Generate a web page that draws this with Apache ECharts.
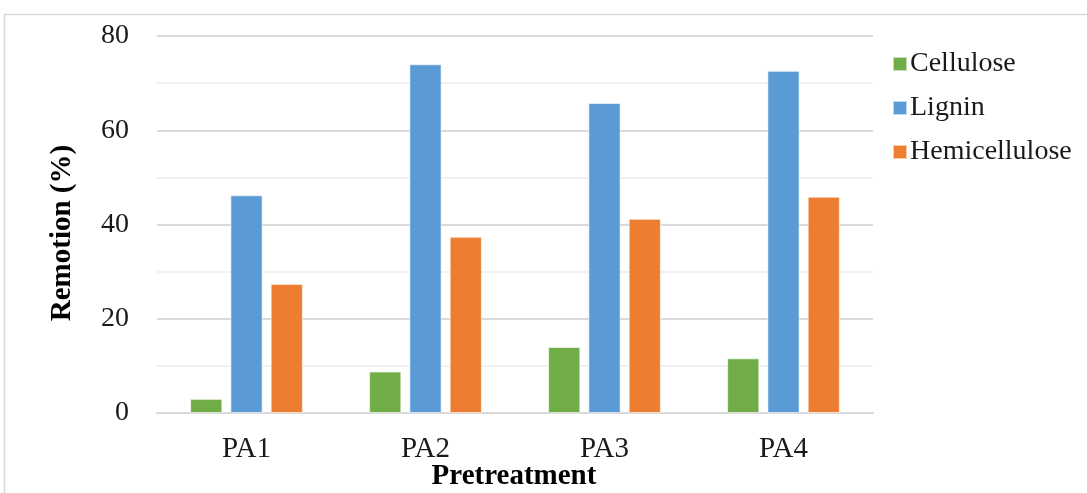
<!DOCTYPE html>
<html>
<head>
<meta charset="utf-8">
<script src="https://cdn.jsdelivr.net/npm/echarts@6/dist/echarts.min.js"></script>
<style>
  html, body { margin: 0; padding: 0; background: #fff; }
  #chart { width: 1087px; height: 493px; }
</style>
</head>
<body>
<div id="chart"></div>
<script>
// Removal of each component (%) by pretreatment
const categories = ['PA1', 'PA2', 'PA3', 'PA4'];
const cellulose = [3.0, 8.8, 14.0, 11.6];
const lignin = [46.2, 74.0, 65.8, 72.6];
const hemicellulose = [27.4, 37.4, 41.2, 45.9];
const yTicks = [0, 20, 40, 60, 80];

const serif = '"Liberation Serif", "DejaVu Serif", serif';
const chart = echarts.init(document.getElementById('chart'));

const barStyle = (color) => ({ color: color, borderColor: 'rgba(255,255,255,0.6)', borderWidth: 1 });

chart.setOption({
  animation: false,
  textStyle: { fontFamily: serif },
  grid: { left: 157, right: 214, top: 36, bottom: 80, containLabel: false },
  graphic: [
    {
      type: 'rect', silent: true, z: -10,
      shape: { x: 4.5, y: 14.5, width: 1200, height: 600 },
      style: { fill: 'none', stroke: '#d9d9d9', lineWidth: 1.5 }
    },
    {
      type: 'text', silent: true,
      x: 514, y: 477,
      style: { text: 'Pretreatment', font: 'bold 29px ' + serif, fill: '#000', textAlign: 'center', textVerticalAlign: 'middle' }
    },
    {
      type: 'text', silent: true,
      x: 63, y: 233, rotation: Math.PI / 2,
      style: { text: 'Remotion (%)', font: 'bold 29px ' + serif, fill: '#000', textAlign: 'center', textVerticalAlign: 'middle' }
    }
  ],
  legend: {
    orient: 'vertical',
    left: 887, top: 45,
    itemWidth: 14, itemHeight: 14,
    itemGap: 16,
    icon: 'rect',
    textStyle: { fontFamily: serif, fontSize: 28, color: '#1a1a1a', padding: [0, 0, 0, -2] },
    data: ['Cellulose', 'Lignin', 'Hemicellulose']
  },
  xAxis: {
    type: 'category',
    data: categories,
    axisLine: { lineStyle: { color: '#d9d9d9', width: 2 } },
    axisTick: { show: false },
    axisLabel: { fontFamily: serif, fontSize: 29, color: '#1a1a1a', margin: 22 }
  },
  yAxis: {
    type: 'value',
    min: yTicks[0], max: yTicks[yTicks.length - 1], interval: 20,
    axisLine: { show: false },
    axisTick: { show: false },
    axisLabel: { fontFamily: serif, fontSize: 28, color: '#1a1a1a', margin: 28 },
    splitLine: { lineStyle: { color: '#d9d9d9', width: 2 } },
    minorTick: { show: false, splitNumber: 2 },
    minorSplitLine: { show: true, lineStyle: { color: '#f0f0f0', width: 2 } }
  },
  series: [
    { name: 'Cellulose', type: 'bar', data: cellulose, itemStyle: barStyle('#70AD47'), barGap: '25%', barCategoryGap: '37%' },
    { name: 'Lignin', type: 'bar', data: lignin, itemStyle: barStyle('#5B9BD5') },
    { name: 'Hemicellulose', type: 'bar', data: hemicellulose, itemStyle: barStyle('#ED7D31') }
  ]
});
</script>
</body>
</html>
